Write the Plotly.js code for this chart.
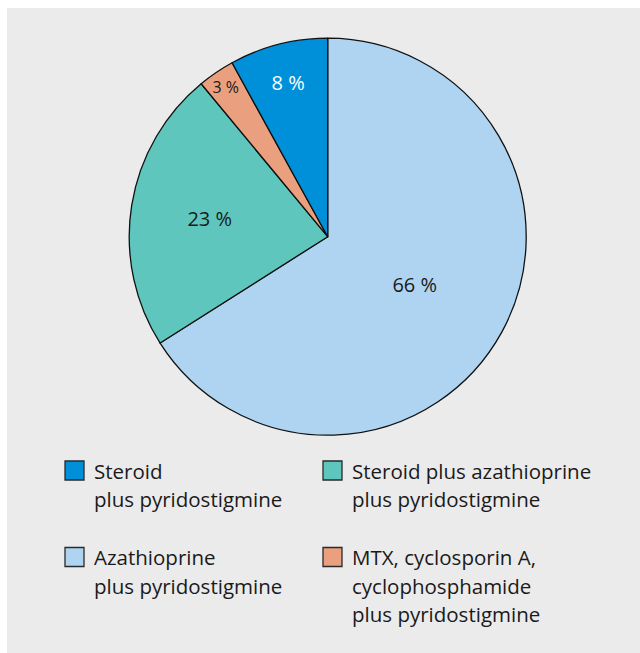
<!DOCTYPE html>
<html>
<head>
<meta charset="utf-8">
<script src="https://cdn.plot.ly/plotly-3.0.1.min.js"></script>
<style>html,body{margin:0;padding:0;background:#fff;}#chart{width:640px;height:653px;}</style>
</head>
<body>
<div id="chart"></div>
<script>
// Slices in drawing order (clockwise from 12 o'clock)
const labels = [
  "Azathioprine plus pyridostigmine",
  "Steroid plus azathioprine plus pyridostigmine",
  "MTX, cyclosporin A, cyclophosphamide plus pyridostigmine",
  "Steroid plus pyridostigmine"
];
const values = [66, 23, 3, 8];
const colors = ["#afd4f1", "#5ec6bd", "#eaa07e", "#0090da"];
const pctTextColors = ["#1a1a1a", "#1a1a1a", "#1a1a1a", "#ffffff"];

// Legend: order and line breaks as in the original
const legendOrder = [3, 1, 0, 2];
const legendLines = [
  ["Azathioprine", "plus pyridostigmine"],
  ["Steroid plus azathioprine", "plus pyridostigmine"],
  ["MTX, cyclosporin A,", "cyclophosphamide", "plus pyridostigmine"],
  ["Steroid", "plus pyridostigmine"]
];

const W = 640, H = 653;
const FONT = "Open Sans";
const TXT = "#1a1a1a";

const px = x => x / W;
const py = y => 1 - y / H;

// pie geometry (pixels)
const cx = 327.7, cy = 236.7, R = 198.5;

const shapes = [{
  type: "rect", xref: "paper", yref: "paper", layer: "below",
  x0: px(7), x1: 1, y0: 0, y1: py(8),
  fillcolor: "#ebebeb", line: {width: 0}
}];
const annotations = [];

// legend grid positions (pixels)
const colX = [65, 323];          // square left edge
const rowY = [470.5, 557];       // square center / first line center
const sq = 19, lineGap = 28.5, textOffset = 27;

legendOrder.forEach((idx, k) => {
  const col = k % 2, row = Math.floor(k / 2);
  const x0 = colX[col], yc = rowY[row];
  shapes.push({
    type: "rect", xref: "paper", yref: "paper",
    x0: px(x0), x1: px(x0 + sq), y0: py(yc + sq / 2), y1: py(yc - sq / 2),
    fillcolor: colors[idx], line: {color: "#2a2a2a", width: 1.3}
  });
  legendLines[idx].forEach((ln, j) => {
    annotations.push({
      xref: "paper", yref: "paper", showarrow: false,
      x: px(x0 + textOffset), y: py(yc + j * lineGap),
      xanchor: "left", yanchor: "middle",
      text: ln, font: {family: FONT, size: 20.5, color: TXT}
    });
  });
});

const trace = {
  type: "pie",
  labels: labels,
  values: values,
  sort: false,
  direction: "clockwise",
  rotation: 0,
  marker: {colors: colors, line: {color: "#111", width: 1.3}},
  texttemplate: "%{value} %",
  textposition: "inside",
  insidetextorientation: "horizontal",
  insidetextfont: {family: FONT, size: 20, color: pctTextColors},
  hoverinfo: "none",
  showlegend: false,
  domain: {x: [px(cx - R), px(cx + R)], y: [py(cy + R), py(cy - R)]}
};

const layout = {
  width: W, height: H,
  margin: {l: 0, r: 0, t: 0, b: 0},
  paper_bgcolor: "#ffffff",
  showlegend: false,
  shapes: shapes,
  annotations: annotations
};

Plotly.newPlot("chart", [trace], layout, {displayModeBar: false, staticPlot: true});
</script>
</body>
</html>
